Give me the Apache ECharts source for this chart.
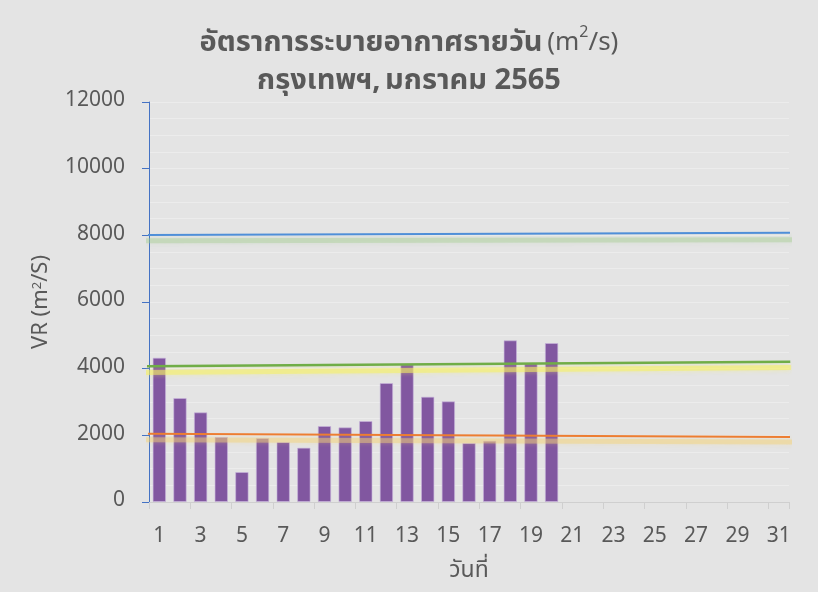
<!DOCTYPE html>
<html>
<head>
<meta charset="utf-8">
<script src="https://cdn.jsdelivr.net/npm/echarts@6/dist/echarts.min.js"></script>
<style>
html,body{margin:0;padding:0;background:#e4e4e4;}
#c{width:818px;height:592px;}
</style>
</head>
<body>
<div id="c"></div>
<script>
// ---- data ----
const days = ['1','2','3','4','5','6','7','8','9','10','11','12','13','14','15','16','17','18','19','20','21','22','23','24','25','26','27','28','29','30','31'];
const vr = [4330,3120,2690,1950,900,1920,1800,1630,2280,2240,2430,3570,4130,3160,3020,1770,1840,4850,4160,4770,null,null,null,null,null,null,null,null,null,null,null];
// reference lines: [value at left edge, value at right edge]
const lineBlue = [8010, 8080];
const lineGreenGlow = [7840, 7870];
const lineGreen = [4075, 4210];
const lineYellowGlow = [3885, 4035];
const lineOrange = [2050, 1950];
const lineOrangeGlow = [1870, 1800];

const FONT = '"Noto Sans Thai","Noto Sans","Open Sans",sans-serif';
const TXT = '#595959';

function seg(vals, x0, x1){ return [[x0, vals[0]], [x1, vals[1]]]; }

const chart = echarts.init(document.getElementById('c'));
chart.setOption({
  animation: false,
  backgroundColor: '#e4e4e4',
  textStyle: {fontFamily: FONT, color: TXT},
  title: {
    left: 'center',
    top: 21,
    text: '{b|อัตราการระบายอากาศรายวัน} {n|(m}{s|2}{n|/s)}\n{b|กรุงเทพฯ,} {b|มกราคม 2565}',
    textStyle: {
      fontWeight: 'normal',
      rich: {
        b: {fontFamily: FONT, fontSize: 29, fontWeight: 'bold', color: TXT, lineHeight: 38},
        n: {fontFamily: FONT, fontSize: 26, fontWeight: 'normal', color: TXT, lineHeight: 38},
        s: {fontFamily: FONT, fontSize: 16, fontWeight: 'normal', color: TXT, verticalAlign: 'top', padding: [0,0,14,0], lineHeight: 38}
      }
    }
  },
  grid: {left: 149, right: 29, top: 102, bottom: 90},
  xAxis: [{
    type: 'category',
    data: days,
    boundaryGap: true,
    axisLine: {lineStyle: {color: '#cfcfcf', width: 1}},
    axisTick: {show: true, length: 7, lineStyle: {color: '#cfcfcf'}},
    axisLabel: {interval: 1, fontSize: 21, color: TXT, fontFamily: FONT, margin: 25},
    name: 'วันที่',
    nameLocation: 'middle',
    nameGap: 59,
    nameTextStyle: {fontSize: 23, color: TXT, fontFamily: FONT}
  }, {
    type: 'value', min: 0, max: 1, show: false
  }],
  yAxis: {
    type: 'value',
    min: 0, max: 12000, interval: 2000,
    axisLine: {show: true, lineStyle: {color: '#4472c4', width: 1}},
    axisTick: {show: true, length: 7, inside: false, lineStyle: {color: '#4472c4'}},
    minorTick: {show: false, splitNumber: 4},
    splitLine: {show: true, lineStyle: {color: '#ececec', width: 1}},
    minorSplitLine: {show: true, lineStyle: {color: '#ececec', width: 1}},
    axisLabel: {fontSize: 21, color: TXT, fontFamily: FONT, margin: 24, formatter: v => String(v)},
    name: '{n|VR (m}{s|2}{n|/S)}',
    nameLocation: 'middle',
    nameGap: 86,
    nameRotate: 90,
    nameTextStyle: {
      rich: {
        n: {fontSize: 22, color: TXT, fontFamily: FONT},
        s: {fontSize: 13, color: TXT, fontFamily: FONT, verticalAlign: 'top', padding: [0,0,10,0]}
      }
    }
  },
  series: [
    {
      type: 'bar',
      data: vr,
      barCategoryGap: '35%',
      itemStyle: {color: '#8157a0', borderColor: 'rgba(200,180,220,0.6)', borderWidth: 1},
      z: 2
    },
    {
      type: 'line', xAxisIndex: 1, data: seg(lineGreenGlow, -0.005, 1.009), clip: false, symbol: 'none',
      lineStyle: {color: 'rgba(165,205,145,0.4)', width: 5, shadowBlur: 5, shadowColor: 'rgba(165,205,145,0.6)'}, z: 3
    },
    {
      type: 'line', xAxisIndex: 1, data: seg(lineBlue, -0.002, 1.007), clip: false, symbol: 'none',
      lineStyle: {color: '#4f8fd8', width: 2}, z: 4
    },
    {
      type: 'line', xAxisIndex: 1, data: seg(lineYellowGlow, -0.01, 1.003), clip: false, symbol: 'none',
      lineStyle: {color: 'rgba(245,240,100,0.55)', width: 5, shadowBlur: 5, shadowColor: 'rgba(245,240,100,0.7)'}, z: 3
    },
    {
      type: 'line', xAxisIndex: 1, data: seg(lineGreen, -0.011, 1.002), clip: false, symbol: 'none',
      lineStyle: {color: '#70ad47', width: 2.5}, z: 4
    },
    {
      type: 'line', xAxisIndex: 1, data: seg(lineOrangeGlow, -0.005, 1.009), clip: false, symbol: 'none',
      lineStyle: {color: 'rgba(245,210,120,0.45)', width: 5, shadowBlur: 5, shadowColor: 'rgba(245,210,120,0.6)'}, z: 3
    },
    {
      type: 'line', xAxisIndex: 1, data: seg(lineOrange, -0.004, 1.009), clip: false, symbol: 'none',
      lineStyle: {color: '#ed7d31', width: 2}, z: 4
    }
  ]
});
</script>
</body>
</html>
